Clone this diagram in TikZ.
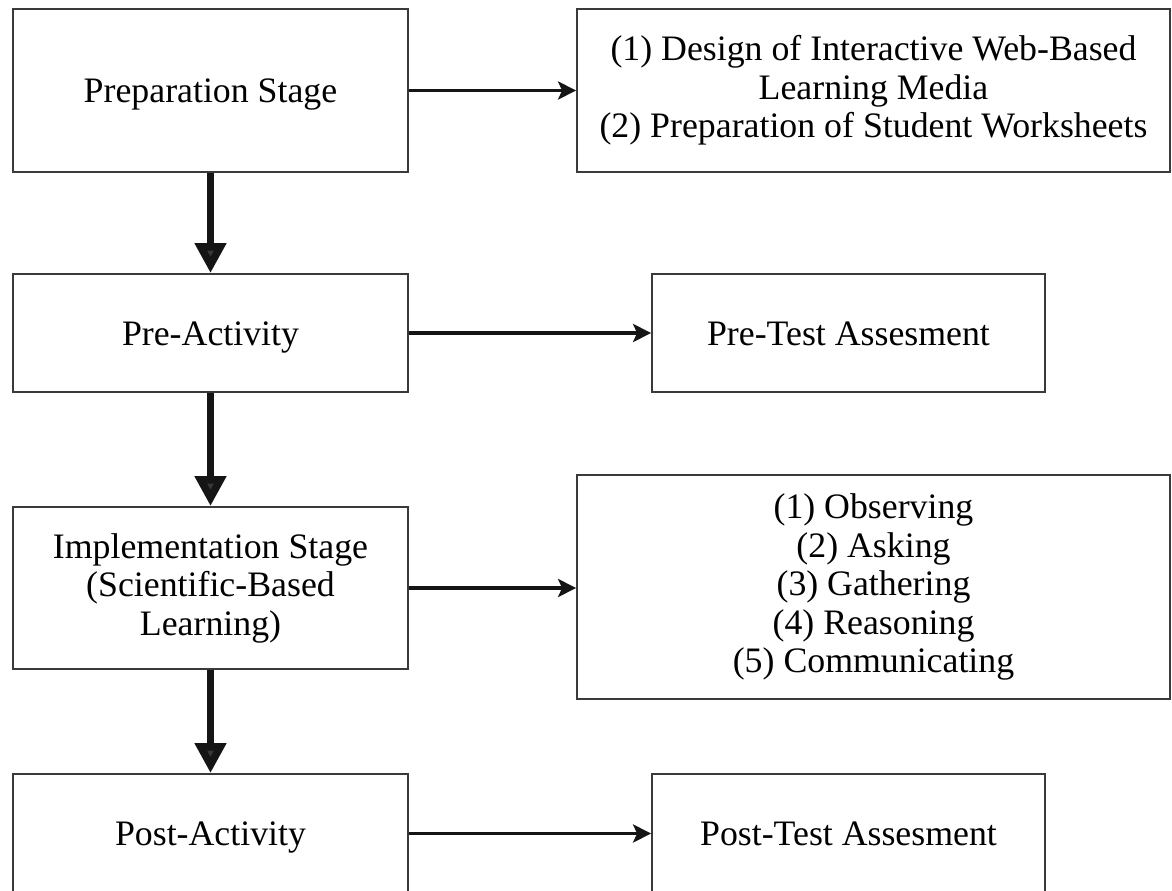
\documentclass[tikz,border=0pt]{standalone}
\usepackage{fontspec}
\setmainfont{Liberation Serif}
\usetikzlibrary{arrows.meta}
\definecolor{boxline}{HTML}{3A3A3A}
\definecolor{arrowdark}{HTML}{151515}
\tikzset{
  flowbox/.style={draw=boxline, line width=1.8pt, fill=white, inner sep=0pt,
    align=center, font=\fontsize{35.8}{38.5}\selectfont},
  oneline/.style={text height=24pt, text depth=0pt},
  harrow/.style={draw=arrowdark, line width=3.5pt,
    -{Stealth[length=18pt,width=18pt,inset=4pt]}},
  varrow/.style={draw=arrowdark, line width=7.5pt,
    -{Triangle[length=30pt,width=30pt,fill=arrowdark!85!white]}}
}
\begin{document}
\begin{tikzpicture}[x=1pt,y=1pt]
\clip (0,0) rectangle (1172,-891);
\fill[white] (0,0) rectangle (1172,-891);
% left column
\node[flowbox, oneline, minimum width=395pt, minimum height=163pt] (prep) at (210.5,-90.5) {Preparation Stage};
\node[flowbox, oneline, minimum width=395pt, minimum height=118pt] (pre) at (210.5,-333) {Pre-Activity};
\node[flowbox, minimum width=395pt, minimum height=162pt] (impl) at (210.5,-588) {Implementation Stage\\(Scientific-Based\\Learning)};
\node[flowbox, oneline, minimum width=395pt, minimum height=119pt] (post) at (210.5,-833.5) {Post-Activity};
% right column
\node[flowbox, minimum width=593pt, minimum height=163pt] (r1) at (873.5,-90.5) {(1) Design of Interactive Web-Based\\Learning Media\\(2) Preparation of Student Worksheets};
\node[flowbox, oneline, minimum width=393pt, minimum height=118pt] (r2) at (848.5,-333) {Pre-Test Assesment};
\node[flowbox, minimum width=593pt, minimum height=224pt] (r3) at (873.5,-587) {(1) Observing\\(2) Asking\\(3) Gathering\\(4) Reasoning\\(5) Communicating};
\node[flowbox, oneline, minimum width=393pt, minimum height=119pt] (r4) at (848.5,-833.5) {Post-Test Assesment};
% horizontal arrows
\draw[harrow] (prep.east) -- (r1.west);
\draw[harrow] (pre.east) -- (r2.west);
\draw[harrow] (impl.east) -- (impl.east -| r3.west);
\draw[harrow] (post.east) -- (r4.west);
% vertical arrows
\draw[varrow] (prep.south) -- (pre.north);
\draw[varrow] (pre.south) -- (impl.north);
\draw[varrow] (impl.south) -- (post.north);
\end{tikzpicture}
\end{document}
